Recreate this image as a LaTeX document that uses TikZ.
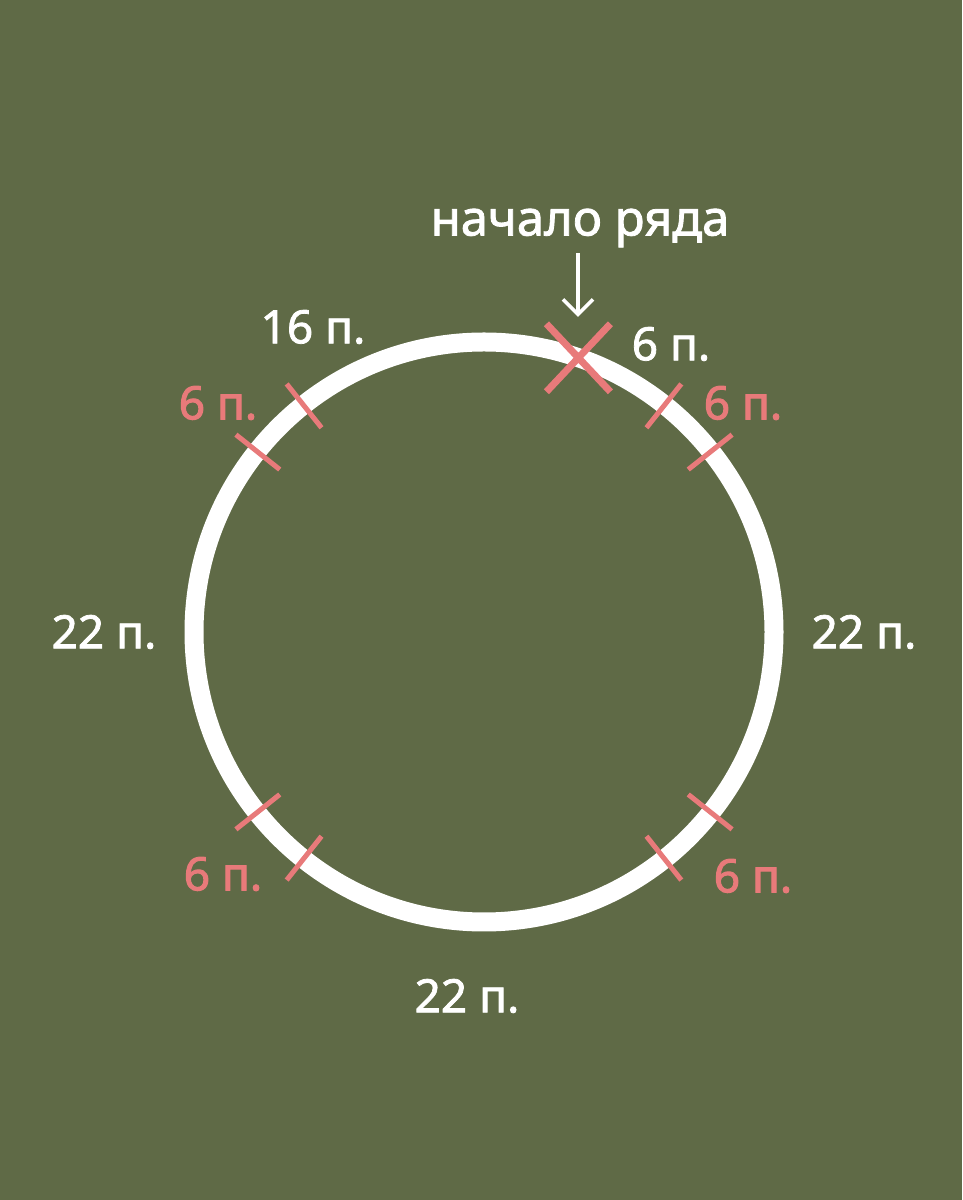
\documentclass[tikz,border=0pt]{standalone}
\usepackage{fontspec}
\setmainfont{Noto Sans}
\newfontfamily\labelfont{Noto Sans}[FakeBold=1.7]
\newfontfamily\rosefont{Noto Sans}[FakeBold=2.2]
\usetikzlibrary{positioning, arrows.meta, calc}

\definecolor{olive}{HTML}{5F6A46}
\definecolor{rose}{HTML}{E87A7A}

\begin{document}
\begin{tikzpicture}[x=1pt, y=1pt,
        lbl/.style={text=white, inner sep=0pt, font=\labelfont\fontsize{46}{52}\selectfont},
        rosetxt/.style={lbl, text=rose, font=\rosefont\fontsize{46}{52}\selectfont},
        rosetick/.style={draw=rose, line width=5pt},
        startmark/.style={draw=rose, line width=7pt}]

    % background and ring
    \fill[olive] (0,0) rectangle (962,1200);
    \coordinate (c) at (484,568);
    \draw[white, line width=19pt] (c) circle[radius=290];

    % section ticks
    \foreach \a in {38.5,51.5,128.5,141.5,218.5,231.5,308.5,321.5}
        \draw[rosetick, shift={(c)}] (\a:261) -- (\a:317);

    % start of the row
    \coordinate (xmark) at ($(c)+(71:290)$);
    \draw[startmark] ($(xmark)+(-32,-34)$) -- ($(xmark)+(32,34)$)
                     ($(xmark)+(-32,34)$) -- ($(xmark)+(32,-34)$);
    \node[lbl, font=\labelfont\fontsize{49}{56}\selectfont] (start) at (580,972) {начало ряда};
    \coordinate (arrowend) at (578,883);
    \draw[white, line width=3.6pt, -{Straight Barb[length=15pt, width=30pt]}]
        (start.south -| arrowend) ++(0,-6) -- (arrowend);

    % counts
    \node[lbl]     (top)    at (313,873) {16 п.};
    \node[lbl]     (first)  at (671,856) {6 п.};
    \node[lbl]     (left)   at (104,568) {22 п.};
    \node[lbl]     (right)  at (864,568) {22 п.};
    \node[lbl]     (bottom) at (467,204) {22 п.};
    \node[rosetxt] (ul)     at (218,797) {6 п.};
    \node[rosetxt] (ur)     at (743,797) {6 п.};
    \node[rosetxt] (ll)     at (223,326) {6 п.};
    \node[rosetxt] (lr)     at (753,324) {6 п.};
\end{tikzpicture}
\end{document}
